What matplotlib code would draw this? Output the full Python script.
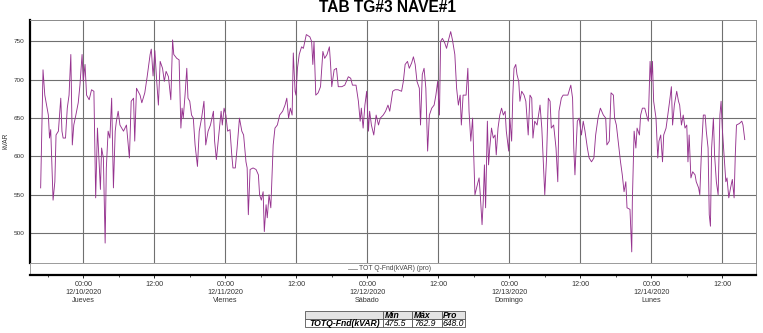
import matplotlib
matplotlib.use('Agg')
import matplotlib.pyplot as plt
import pandas as pd

plt.rcParams['font.family'] = ['Liberation Sans', 'DejaVu Sans']

# Hours since 12/10/2020 00:00 and reactive power (kVAR)
hours = [
    -7.2, -6.8, -6.5, -6.2, -5.9, -5.7, -5.5, -5.35, -5.1, -4.8,
    -4.6, -4.2, -3.8, -3.6, -3.4, -3.0, -2.7, -2.4, -2.1, -1.85,
    -1.6, -1.25, -0.85, -0.56, -0.2, 0.0, 0.3, 0.56, 1.0, 1.4,
    1.8, 2.1, 2.4, 2.7, 2.9, 3.1, 3.4, 3.7, 3.9, 4.2,
    4.5, 4.8, 5.1, 5.4, 5.6, 5.9, 6.2, 6.5, 6.8, 7.3,
    7.8, 8.1, 8.5, 8.7, 9.0, 9.6, 9.9, 10.4, 10.8, 11.3,
    11.5, 11.8, 12.1, 12.4, 12.7, 13.0, 13.4, 13.7, 14.0, 14.4,
    14.8, 15.1, 15.3, 15.8, 16.2, 16.5, 16.7, 16.9, 17.2, 17.5,
    17.7, 18.0, 18.3, 18.6, 18.9, 19.3, 19.6, 20.0, 20.4, 20.7,
    21.1, 21.5, 22.0, 22.2, 22.5, 22.9, 23.3, 23.5, 23.8, 24.1,
    24.4, 24.8, 25.1, 25.3, 25.7, 26.0, 26.4, 26.8, 27.1, 27.5,
    27.7, 27.9, 28.2, 28.7, 29.2, 29.6, 29.8, 30.1, 30.4, 30.6,
    30.9, 31.1, 31.4,
    31.7, 32.1, 32.4, 32.8, 33.2, 33.7, 34.1, 34.4, 34.7, 35.0,
    35.3, 35.5, 35.8, 35.95, 36.2, 36.5, 36.9, 37.2, 37.7, 38.3,
    38.6, 38.8, 39.0, 39.3, 39.7, 40.1, 40.5, 40.8, 41.2, 41.6,
    41.8, 42.0, 42.4, 42.8, 43.1, 43.7, 44.2, 44.8, 45.2, 45.5,
    46.1, 46.5, 46.8, 47.0, 47.3, 47.6, 47.9, 48.2, 48.4, 48.7,
    49.1, 49.5, 49.9, 50.2, 50.7, 51.1, 51.5,
    51.8, 52.3, 52.7, 53.2, 53.8, 54.1, 54.4, 54.8, 55.1, 55.5,
    55.8, 56.1, 56.4, 56.8, 57.0, 57.3, 57.6, 57.9, 58.2, 58.5,
    58.9, 59.3, 59.6, 59.9, 60.2, 60.4, 60.7, 61.1, 61.4, 61.8,
    62.1, 62.4, 62.8, 63.1, 63.4, 63.7, 63.9, 64.2, 64.7, 65.0,
    65.2, 65.5, 65.8, 66.0, 66.2, 66.6, 66.9, 67.1, 67.4, 67.6,
    67.8, 68.0, 68.3, 68.5, 68.7, 69.0, 69.3, 69.6, 69.8, 70.1,
    70.4, 70.7, 71.0, 71.3, 71.5, 71.9,
    72.1, 72.4, 72.6, 72.8, 73.1, 73.3, 73.6, 73.8, 74.1, 74.5,
    74.8, 75.2, 75.5, 75.8, 76.0, 76.3, 76.7, 77.2, 77.5, 77.7,
    78.0, 78.3, 78.6, 78.9, 79.1, 79.5, 79.9, 80.2, 80.4, 80.8,
    81.1, 81.6, 81.9, 82.4, 82.7, 82.9, 83.1, 83.5, 83.8, 84.2,
    84.5, 84.8, 85.2, 85.5, 85.9, 86.3, 86.6, 87.0, 87.4, 87.9,
    88.3, 88.5, 88.9, 89.2, 89.6, 89.8, 90.1, 90.4, 90.8, 91.1,
    91.4, 91.7, 91.9, 92.4,
    92.7, 92.8, 93.1, 93.4, 93.6, 94.0, 94.2, 94.5, 94.9, 95.2,
    95.5, 95.8, 96.0, 96.2, 96.4, 96.8, 97.1, 97.3, 97.6, 97.9,
    98.1, 98.5, 98.8, 99.1, 99.4, 99.6, 99.9, 100.3, 100.6, 100.8,
    101.1, 101.4, 101.7, 102.0, 102.2, 102.4, 102.7, 103.0, 103.4, 103.6,
    104.0, 104.2, 104.5, 104.8, 105.1, 105.3, 105.6, 105.8, 106.0, 106.2,
    106.5, 106.7, 107.0, 107.3, 107.6, 107.8, 108.0, 108.3, 108.6, 108.8,
    109.1, 109.4, 109.7, 110.0, 110.2, 110.4, 110.9, 111.3, 111.5, 111.8,
]
kvar = [
    559, 713, 680, 667, 654, 624, 635, 602, 543, 567,
    628, 633, 676, 633, 624, 624, 663, 680, 733, 615,
    641, 654, 670, 693, 733, 698, 720, 680, 674, 687,
    685, 546, 637, 589, 557, 611, 598, 487, 585, 633,
    624, 676, 559, 633, 646, 659, 641, 637, 633, 641,
    598, 672, 676, 620, 689, 680, 670, 683, 704, 733,
    740, 705, 738, 700, 667, 724, 715, 698, 711, 704,
    674, 752, 733, 728, 726, 637, 663, 650, 680, 715,
    676, 672, 654, 650, 615, 587, 633, 650, 672, 615,
    633, 641, 659, 620, 596, 628, 659, 641, 663, 654,
    633, 635, 602, 585, 585, 611, 650, 633, 628, 593,
    585, 524, 583, 585, 583, 576, 550, 543, 554, 502,
    537, 520, 550,
    533, 615, 637, 641, 654, 659, 667, 676, 650, 663,
    654, 735, 685, 680, 715, 733, 743, 741, 759, 756,
    750, 720, 750, 680, 683, 691, 737, 728, 733, 743,
    720, 691, 713, 715, 691, 691, 693, 704, 702, 693,
    693, 672, 646, 663, 637, 667, 685, 633, 659, 641,
    628, 654, 641, 650, 654, 659, 667,
    659, 685, 687, 687, 685, 698, 720, 724, 715, 722,
    730, 720, 698, 689, 641, 707, 715, 689, 607, 654,
    663, 667, 680, 698, 654, 750, 754, 748, 741, 754,
    762.9, 752, 733, 689, 667, 680, 641, 680, 680, 715,
    659, 620, 650, 602, 550, 563, 572, 550, 511, 541,
    589, 533, 646, 589, 611, 637, 624, 628, 602, 637,
    654, 663, 654, 659, 633, 607,
    650, 620, 680, 715, 720, 707, 698, 672, 685, 680,
    672, 628, 680, 676, 624, 646, 641, 667, 637, 602,
    550, 598, 676, 672, 637, 641, 611, 567, 659, 676,
    680, 680, 680, 693, 676, 611, 576, 646, 650, 628,
    646, 633, 611, 598, 593, 598, 628, 650, 663, 654,
    650, 615, 620, 683, 680, 650, 641, 620, 593, 576,
    554, 567, 533, 531,
    475.5, 541, 633, 611, 637, 628, 654, 663, 663, 654,
    646, 724, 698, 724, 672, 650, 598, 620, 628, 593,
    628, 637, 654, 672, 691, 641, 667, 685, 672, 667,
    641, 654, 637, 641, 593, 628, 572, 580, 576, 567,
    559, 550, 611, 654, 654, 633, 611, 524, 509, 611,
    650, 602, 567, 550, 654, 672, 637, 602, 567, 572,
    546, 559, 570, 546, 602, 641, 643, 646, 641, 622,
]

day_dates = ['12/10/2020', '12/11/2020', '12/12/2020', '12/13/2020', '12/14/2020']
day_names = ['Jueves', 'Viernes', 'Sábado', 'Domingo', 'Lunes']

stat_names = ['Min', 'Máx', 'Pro']
stat_values = ['475.5', '762.9', '648.0']

base = pd.Timestamp('2020-12-10')
times = base + pd.to_timedelta(hours, unit='h')
x_left = base + pd.Timedelta(hours=-9)
x_right = base + pd.Timedelta(hours=113.7)

tick_times = [base + pd.Timedelta(hours=12 * i) for i in range(10)]
tick_labels = []
for i in range(10):
    if i % 2 == 0:
        tick_labels.append('00:00\n' + day_dates[i // 2] + '\n' + day_names[i // 2])
    else:
        tick_labels.append('12:00')
minor_times = [base + pd.Timedelta(hours=6 * i) for i in range(-1, 19)]

line_color = '#96338f'
grid_color = '#707070'

fig = plt.figure(figsize=(7.63, 3.33), dpi=100)

# Main plot
ax = fig.add_axes([30/763, 1 - 263/333, 726/763, 243/333])
ax.plot(times, kvar, color=line_color, lw=0.65)
ax.set_xlim(x_left, x_right)
ax.set_ylim(461, 778)
ax.set_xticks(tick_times)
ax.set_yticks([500, 550, 600, 650, 700, 750])
ax.tick_params(axis='x', length=0, labelbottom=False)
ax.tick_params(axis='y', length=0, labelsize=4.6, pad=4, labelcolor='#333333')
ax.grid(True, color=grid_color, lw=0.8)
for side in ['top', 'right', 'bottom']:
    ax.spines[side].set_color('#8a8a8a')
    ax.spines[side].set_linewidth(0.7)
ax.spines['left'].set_color('black')
ax.spines['left'].set_linewidth(1.6)

# Legend strip with the time axis under it
axl = fig.add_axes([30/763, 1 - 275/333, 726/763, 12/333])
axl.set_xlim(x_left, x_right)
axl.set_ylim(0, 1)
axl.set_yticks([])
axl.set_xticks(tick_times)
axl.set_xticklabels(tick_labels)
axl.set_xticks(minor_times, minor=True)
axl.tick_params(axis='x', which='major', length=2.5, width=0.6, pad=2,
                labelsize=5.2, labelcolor='#333333')
axl.tick_params(axis='x', which='minor', length=1.5, width=0.5)
for side in ['top', 'right', 'left']:
    axl.spines[side].set_color('#8a8a8a')
    axl.spines[side].set_linewidth(0.6)
axl.spines['bottom'].set_color('black')
axl.spines['bottom'].set_linewidth(1.6)
axl.plot([0.438, 0.450], [0.5, 0.5], transform=axl.transAxes, color='#888888', lw=0.6)
axl.text(0.453, 0.5, 'TOT Q-Fnd(kVAR) (pro)', transform=axl.transAxes,
         ha='left', va='center', fontsize=4.9, color='#444444')

fig.text(387.5/763, 1 - 8/333, 'TAB TG#3 NAVE#1', ha='center', va='center',
         fontsize=11.2, fontweight='bold')
fig.text(5.5/763, 1 - 141/333, 'kVAR', ha='center', va='center', rotation=90,
         fontsize=4.8, color='#333333')

# Summary table
axt = fig.add_axes([305/763, 1 - 327/333, 160/763, 16/333])
axt.axis('off')
tab = axt.table(cellText=[[''] + stat_names, ['TOTQ-Fnd(kVAR)'] + stat_values],
                cellLoc='left', bbox=[0, 0, 1, 1],
                colWidths=[78/160, 29/160, 29.5/160, 23.5/160])
tab.auto_set_font_size(False)
for (r, c), cell in tab.get_celld().items():
    cell.set_edgecolor('#555555')
    cell.set_linewidth(0.6)
    cell.PAD = 0.06
    txt = cell.get_text()
    txt.set_fontsize(6.2)
    txt.set_fontstyle('italic')
    if r == 0:
        cell.set_facecolor('#e4e4e4')
        txt.set_fontweight('bold')
    if c == 0:
        txt.set_fontweight('bold')

plt.savefig('out.png', dpi=100)
